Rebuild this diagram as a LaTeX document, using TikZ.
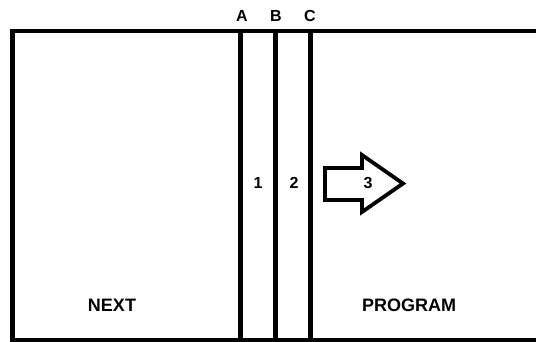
\documentclass[tikz,border=0pt]{standalone}
\usepackage{fontspec}
\setmainfont{Liberation Sans}
\tikzset{
  >=latex,
  lbl/.style={font=\fontsize{16}{19}\selectfont\bfseries},
  area/.style={font=\fontsize{18}{21}\selectfont\bfseries},
}

\begin{document}
\begin{tikzpicture}[x=1pt,y=-1pt]
    \useasboundingbox (0,0) rectangle (536,342);
    \clip (0,0) rectangle (536,342);
    \begin{scope}[line width=4.5pt]
      \draw (545,31)--(12.5,31)--(12.5,340)--(545,340);
      \foreach \x in {240.5,275.5,310.5}
        \draw (\x,31)--(\x,340);
    \end{scope}
    % the arrow
    \draw[line width=3.8pt,line join=miter]
      (325,168)--(362,168)--(362,155)--(403,183.5)--(362,212)--(362,200)--(325,200)--cycle;
    \node[lbl] (ptrA) at (242,16) {A};
    \node[lbl] (ptrB) at (276,16) {B};
    \node[lbl] (ptrC) at (310,16) {C};
    \node[lbl] (one) at (258,183) {1};
    \node[lbl] (two) at (294,183) {2};
    \node[lbl] (three) at (368,183) {3};
    \node[area] (next) at (112,305) {NEXT};
    \node[area] (program) at (409,305) {PROGRAM};
  \end{tikzpicture}
\end{document}
